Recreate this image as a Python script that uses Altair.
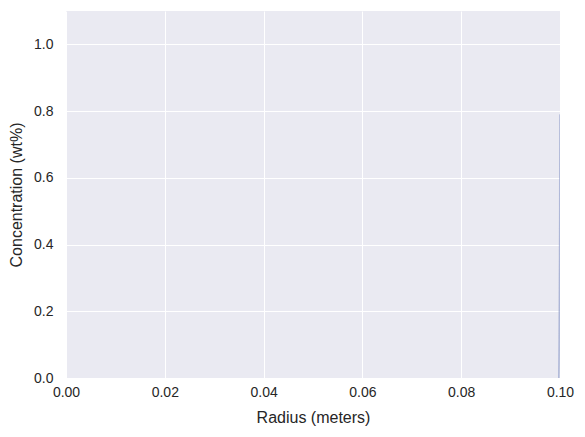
import altair as alt
import pandas as pd

# Concentration profiles (very steep near the surface r = 0.1 m)
radius = [0.09975, 0.0998, 0.0999, 0.09995, 0.1]
profile_a = [0.0, 0.02, 0.10, 0.35, 0.79]
profile_b = [0.0, 0.05, 0.25, 0.50, 0.79]
profile_c = [0.0, 0.12, 0.40, 0.60, 0.79]
profile_d = [0.0, 0.25, 0.55, 0.68, 0.79]
series_names = ["t1", "t2", "t3", "t4"]

rows = []
for name, prof in zip(series_names, [profile_a, profile_b, profile_c, profile_d]):
    for r, c in zip(radius, prof):
        rows.append({"series": name, "radius": r, "conc": c})
df = pd.DataFrame(rows)

x_ticks = [0.0, 0.02, 0.04, 0.06, 0.08, 0.10]
y_ticks = [0.0, 0.2, 0.4, 0.6, 0.8, 1.0]

chart = alt.Chart(df).mark_line(strokeWidth=1.2, opacity=0.3, clip=True).encode(
    x=alt.X("radius:Q", title="Radius (meters)",
            scale=alt.Scale(domain=[0, 0.1], nice=False, zero=False),
            axis=alt.Axis(values=x_ticks, format=".2f", labelPadding=7, titlePadding=10,
                          labelFlush=False)),
    y=alt.Y("conc:Q", title="Concentration (wt%)",
            scale=alt.Scale(domain=[0, 1.1], nice=False),
            axis=alt.Axis(values=y_ticks, format=".1f", labelPadding=13, titlePadding=9)),
    color=alt.Color("series:N", legend=None,
                    scale=alt.Scale(range=["#8c9cc8", "#7f8fbf", "#9aa6cf", "#a8b2d6"])),
    detail="series:N",
).properties(
    width=494, height=367,
    background="white",
    autosize=alt.AutoSizeParams(type="none"),
    padding={"left": 58, "top": 3, "right": 17, "bottom": 51},
).configure_view(
    fill="#EAEAF2", stroke=None
).configure_axis(
    grid=True, gridColor="white", gridWidth=1, domain=False, ticks=False,
    labelFont="Liberation Sans", titleFont="Liberation Sans",
    labelFontSize=14, titleFontSize=16, titleFontWeight="normal",
    labelColor="#262626", titleColor="#262626",
)

chart.save("out.html", embed_options={"renderer": "svg", "actions": False})
